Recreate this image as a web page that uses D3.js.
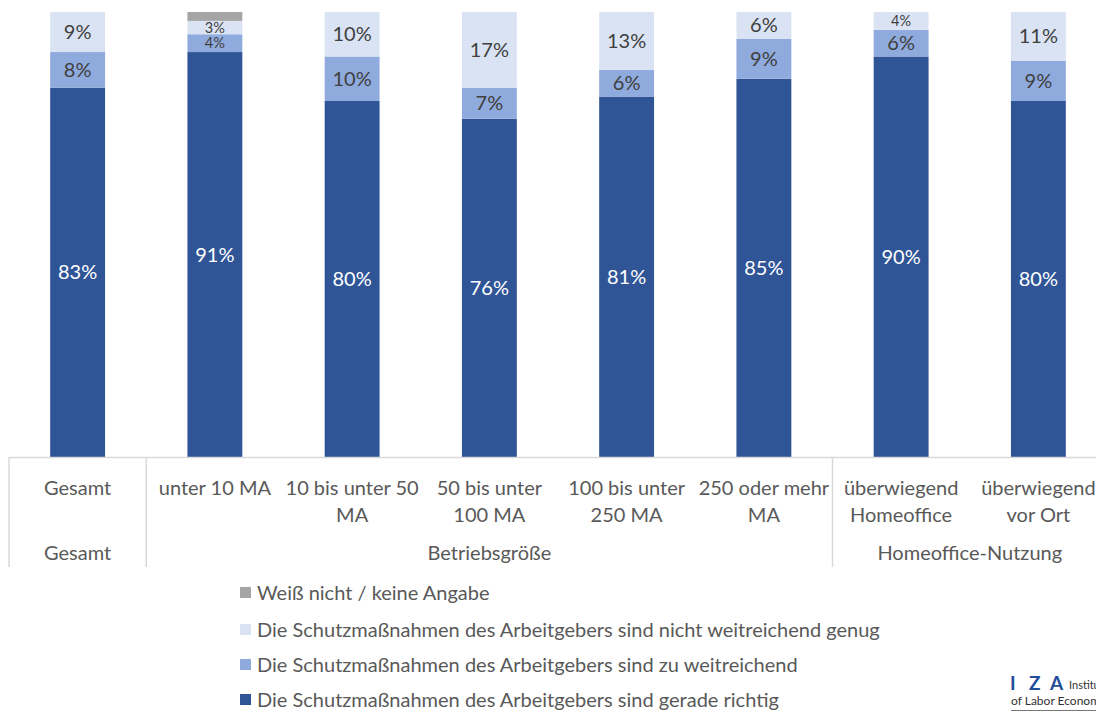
<!DOCTYPE html>
<html>
<head>
<meta charset="utf-8">
<script src="https://cdn.jsdelivr.net/npm/d3@7"></script>
<style>
  html, body { margin: 0; padding: 0; background: #fff; }
  svg { display: block; font-family: Lato, "Open Sans", sans-serif; }
</style>
</head>
<body>
<svg id="chart" width="1096" height="711"></svg>
<script>
// ---- data ----
const categories = ["Gesamt", "unter 10 MA", "10 bis unter 50 MA", "50 bis unter 100 MA", "100 bis unter 250 MA", "250 oder mehr MA", "überwiegend Homeoffice", "überwiegend vor Ort"];
const categoryLines = [["Gesamt"], ["unter 10 MA"], ["10 bis unter 50", "MA"], ["50 bis unter", "100 MA"], ["100 bis unter", "250 MA"], ["250 oder mehr", "MA"], ["überwiegend", "Homeoffice"], ["überwiegend", "vor Ort"]];
const groups = [
  { name: "Gesamt", from: 0, to: 0 },
  { name: "Betriebsgröße", from: 1, to: 5 },
  { name: "Homeoffice-Nutzung", from: 6, to: 7 }
];
const seriesNames = [
  "Die Schutzmaßnahmen des Arbeitgebers sind gerade richtig",
  "Die Schutzmaßnahmen des Arbeitgebers sind zu weitreichend",
  "Die Schutzmaßnahmen des Arbeitgebers sind nicht weitreichend genug",
  "Weiß nicht / keine Angabe"
];
const geradeRichtig   = [83, 91, 80, 76, 81, 85, 90, 80];
const zuWeitreichend  = [8, 4, 10, 7, 6, 9, 6, 9];
const nichtGenug      = [9, 3, 10, 17, 13, 6, 4, 11];
const weissNicht      = [0, 2, 0, 0, 0, 0, 0, 0];
const colors = ["#2F5597", "#8FAADC", "#DAE3F3", "#A5A5A5"];
const labelColors = ["#ffffff", "#404040", "#404040", "#404040"];
const yTicks = [0, 100];

const seriesValues = [geradeRichtig, zuWeitreichend, nichtGenug, weissNicht];

// ---- layout ----
const svg = d3.select("#chart");
const x = d3.scaleBand().domain(categories).range([9, 1107]).paddingInner(0.6).paddingOuter(0.3);
const y = d3.scaleLinear().domain(d3.extent(yTicks)).range([457, 12]);

const rows = categories.map((c, i) => {
  const r = { cat: c };
  seriesValues.forEach((s, k) => r["s" + k] = s[i]);
  return r;
});
const stack = d3.stack().keys(seriesValues.map((_, k) => "s" + k));
const stacked = stack(rows);

const gBars = svg.append("g");
stacked.forEach((layer, k) => {
  gBars.selectAll(null).data(layer).enter().append("rect")
    .attr("x", d => x(d.data.cat))
    .attr("width", x.bandwidth())
    .attr("y", d => y(d[1]))
    .attr("height", d => Math.max(0, y(d[0]) - y(d[1])))
    .attr("fill", colors[k]);
});

// data labels
stacked.forEach((layer, k) => {
  if (k === 3) return;
  gBars.selectAll(null).data(layer.filter(d => d[1] - d[0] > 0)).enter().append("text")
    .attr("x", d => x(d.data.cat) + x.bandwidth() / 2)
    .attr("y", d => (y(d[0]) + y(d[1])) / 2)
    .attr("dy", "0.35em")
    .attr("text-anchor", "middle")
    .attr("fill", labelColors[k])
    .style("font-size", d => (d[1] - d[0]) <= 4 ? "14.5px" : "20px")
    .text(d => (d[1] - d[0]) + "%");
});

// axis structure
const step = x.step();
const axisLeft = 9;
const axisY = y(0);
const lineColor = "#D9D9D9";
const ax = svg.append("g");
ax.append("line").attr("x1", axisLeft).attr("x2", 1096).attr("y1", axisY + 0.5).attr("y2", axisY + 0.5)
  .attr("stroke", lineColor).attr("stroke-width", 1.5);
const boundaries = [axisLeft];
groups.slice(1).forEach(g => boundaries.push(x(categories[g.from]) + x.bandwidth() / 2 - step / 2));
boundaries.forEach(bx => {
  ax.append("line").attr("x1", bx).attr("x2", bx).attr("y1", axisY).attr("y2", 567)
    .attr("stroke", lineColor).attr("stroke-width", 1.5);
});

// category labels
categories.forEach((c, i) => {
  const cx = x(c) + x.bandwidth() / 2;
  const t = ax.append("text").attr("x", cx).attr("y", 495).attr("text-anchor", "middle")
    .attr("fill", "#595959").style("font-size", "20px");
  categoryLines[i].forEach((ln, j) => {
    t.append("tspan").attr("x", cx).attr("dy", j === 0 ? 0 : 27).text(ln);
  });
});

// group labels
groups.forEach(g => {
  const left = x(categories[g.from]) + x.bandwidth() / 2 - step / 2;
  const right = x(categories[g.to]) + x.bandwidth() / 2 + step / 2;
  ax.append("text").attr("x", (Math.max(left, axisLeft) + right) / 2)
    .attr("y", 560).attr("text-anchor", "middle").attr("fill", "#595959").style("font-size", "20px")
    .text(g.name);
});

// legend (reverse order)
const legendOrder = [3, 2, 1, 0];
const legendY = [593, 630, 665, 700];
const lg = svg.append("g");
legendOrder.forEach((k, i) => {
  lg.append("rect").attr("x", 240).attr("y", legendY[i] - 6).attr("width", 11).attr("height", 11).attr("fill", colors[k]);
  lg.append("text").attr("x", 257).attr("y", legendY[i]).attr("dy", "0.35em").attr("fill", "#595959")
    .style("font-size", "20px").text(seriesNames[k]);
});

// IZA logo fragment
const logo = svg.append("g");
const iza = logo.append("text").attr("y", 690).attr("fill", "#1F4E9A")
  .style("font-size", "19px").style("font-weight", "bold");
[["I", 1010], ["Z", 1029], ["A", 1050]].forEach(([ch, px]) => iza.append("tspan").attr("x", px).text(ch));
logo.append("text").attr("x", 1069).attr("y", 689).attr("fill", "#333").style("font-size", "11px").text("Institute");
logo.append("text").attr("x", 1011).attr("y", 705).attr("fill", "#333").style("font-size", "12px").text("of Labor Economics");
logo.append("line").attr("x1", 1011).attr("x2", 1096).attr("y1", 710.5).attr("y2", 710.5).attr("stroke", "#777").attr("stroke-width", 1);
</script>
</body>
</html>
